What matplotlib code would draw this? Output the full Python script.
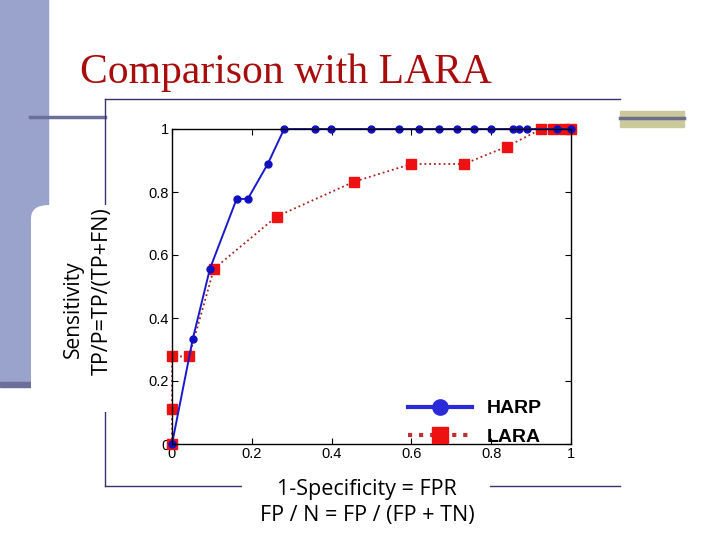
import matplotlib
matplotlib.use('agg')
import matplotlib.pyplot as plt
from matplotlib.lines import Line2D
from matplotlib.patches import Rectangle, FancyBboxPatch

# ROC points
harp_fpr = [0, 0.052, 0.095, 0.162, 0.19, 0.24, 0.281, 0.358, 0.399, 0.498,
            0.568, 0.618, 0.668, 0.714, 0.757, 0.8, 0.855, 0.87, 0.889, 0.966, 1.0]
harp_tpr = [0, 0.333, 0.556, 0.778, 0.778, 0.889, 1, 1, 1, 1,
            1, 1, 1, 1, 1, 1, 1, 1, 1, 1, 1]

lara_fpr = [0, 0, 0, 0.043, 0.105, 0.262, 0.457, 0.6, 0.732, 0.839,
            0.926, 0.956, 0.983, 0.999]
lara_tpr = [0, 0.111, 0.278, 0.278, 0.556, 0.722, 0.833, 0.889, 0.889, 0.944,
            1, 1, 1, 1]

xticks = [0, 0.2, 0.4, 0.6, 0.8, 1]
xtick_labels = ['0', '0.2', '0.4', '0.6', '0.8', '1']
yticks = [0, 0.2, 0.4, 0.6, 0.8, 1]
ytick_labels = ['0', '0.2', '0.4', '0.6', '0.8', '1']

W, H = 720, 540


def fx(x):
    return x / W


def fy(y):
    return 1 - y / H


fig = plt.figure(figsize=(7.2, 5.4), dpi=100)

# slide decorations
fig.add_artist(Rectangle((0, fy(383)), fx(48), 1 - fy(383) + 0.01,
                         transform=fig.transFigure, color='#9aa3cc', zorder=0))
fig.add_artist(Rectangle((0, fy(387)), fx(31), fy(382) - fy(387),
                         transform=fig.transFigure, color='#6c6f99', zorder=0))
fig.add_artist(Line2D([fx(30), fx(105)], [fy(117), fy(117)],
                      transform=fig.transFigure, color='#6c6f99', lw=2.5, zorder=1))
fig.add_artist(Rectangle((fx(620), fy(127)), fx(64), fy(111) - fy(127),
                         transform=fig.transFigure, color='#cbc99c', zorder=0))
fig.add_artist(Line2D([fx(620), fx(684)], [fy(118), fy(118)],
                      transform=fig.transFigure, color='#6c6f8a', lw=2.5, zorder=1))

# frame of the pasted chart image
frame_c = '#3c3070'
fig.add_artist(Line2D([fx(105), fx(620)], [fy(99), fy(99)],
                      transform=fig.transFigure, color=frame_c, lw=1, zorder=1))
fig.add_artist(Line2D([fx(105), fx(105)], [fy(99), fy(486)],
                      transform=fig.transFigure, color=frame_c, lw=1, zorder=1))
fig.add_artist(Line2D([fx(105), fx(620)], [fy(486), fy(486)],
                      transform=fig.transFigure, color=frame_c, lw=1, zorder=1))

# white text boxes covering the frame
fig.add_artist(FancyBboxPatch((fx(31), fy(412)), fx(95), fy(205) - fy(412),
                              boxstyle='round,pad=0,rounding_size=0.025',
                              transform=fig.transFigure, fc='white', ec='none', zorder=2))
fig.add_artist(Rectangle((fx(242), fy(540)), fx(248), fy(470) - fy(540),
                         transform=fig.transFigure, fc='white', ec='none', zorder=2))

fig.text(fx(80), fy(83), 'Comparison with LARA', fontfamily='Liberation Serif',
         fontsize=30, color='#a80c0c', va='baseline', ha='left', zorder=3)

fig.text(fx(73), fy(309), 'Sensitivity', rotation=90, fontfamily='Open Sans',
         fontsize=15, ha='center', va='center', zorder=3)
fig.text(fx(102), fy(291), 'TP/P=TP/(TP+FN)', rotation=90, fontfamily='Open Sans',
         fontsize=15.5, ha='center', va='center', zorder=3)
fig.text(fx(367), fy(490), '1-Specificity = FPR', fontfamily='Open Sans',
         fontsize=15.5, ha='center', va='center', zorder=3)
fig.text(fx(367), fy(516), 'FP / N = FP / (FP + TN)', fontfamily='Open Sans',
         fontsize=15.5, ha='center', va='center', zorder=3)

ax = fig.add_axes([fx(172), fy(444), fx(571) - fx(172), fy(129) - fy(444)])
ax.set_zorder(3)

ax.plot(lara_fpr, lara_tpr, color='#a82020', ls=':', lw=1.3, marker='s',
        markersize=6.5, markerfacecolor='#ee1111', markeredgecolor='#ee1111', clip_on=False)
ax.plot(harp_fpr, harp_tpr, color='#1a1acc', ls='-', lw=1.4, marker='o',
        markersize=5, markerfacecolor='#1010c0', markeredgecolor='#1010c0', clip_on=False)

ax.set_xlim(0, 1)
ax.set_ylim(0, 1)
ax.set_xticks(xticks)
ax.set_xticklabels(xtick_labels)
ax.set_yticks(yticks)
ax.set_yticklabels(ytick_labels)
ax.tick_params(direction='in', length=4, width=0.8, top=True, right=True,
               labelsize=10.5, pad=2)
for lab in ax.get_xticklabels() + ax.get_yticklabels():
    lab.set_fontfamily('Liberation Sans')
for sp in ax.spines.values():
    sp.set_color('black')
    sp.set_linewidth(1)

handles = [
    Line2D([], [], color='#2a2ad8', lw=3, marker='o', markersize=11,
           markerfacecolor='#2a2ad8', markeredgecolor='#2a2ad8'),
    Line2D([], [], color='#c03030', lw=3, ls=':', marker='s', markersize=11,
           markerfacecolor='#ee1111', markeredgecolor='#ee1111'),
]
leg = ax.legend(handles, ['HARP', 'LARA'], loc='lower right', frameon=False,
                bbox_to_anchor=(0.945, -0.03), borderaxespad=0,
                handlelength=3.3, handletextpad=0.75, labelspacing=0.55,
                prop={'family': 'Liberation Sans', 'weight': 'bold', 'size': 14})

fig.savefig('out.png', dpi=100)
